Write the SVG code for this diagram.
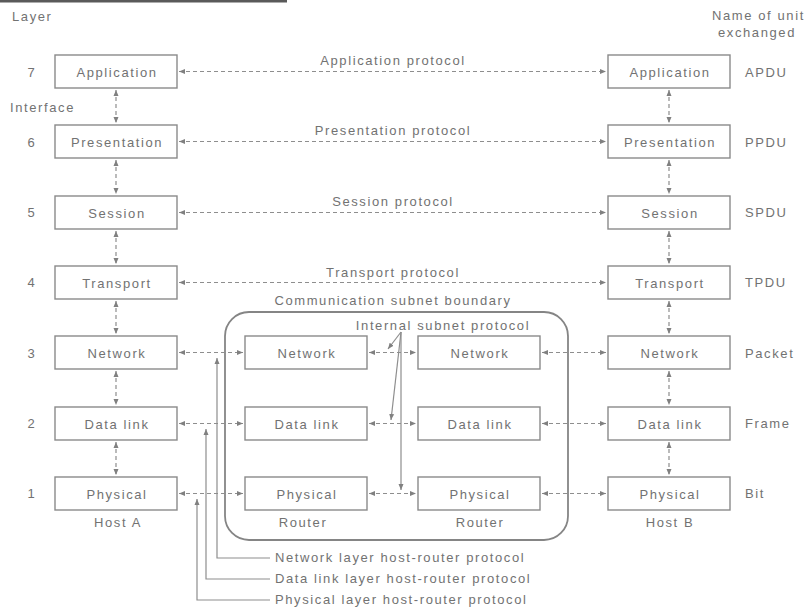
<svg xmlns="http://www.w3.org/2000/svg" width="811" height="608" viewBox="0 0 811 608">
<style>
text{font-family:"Liberation Sans",Arial,sans-serif;font-size:13px;fill:#727272;letter-spacing:1.6px}
.c{text-anchor:middle}
.box{fill:#ffffff;stroke:#8a8a8a;stroke-width:1.4}
.dash{fill:none;stroke:#8e8e8e;stroke-width:1.2;stroke-dasharray:4 3}
.sol{fill:none;stroke:#8e8e8e;stroke-width:1.2}
.bnd{fill:none;stroke:#858585;stroke-width:1.8}
</style>
<defs>
<marker id="ah" markerWidth="6" markerHeight="6" refX="6" refY="3" orient="auto-start-reverse" markerUnits="userSpaceOnUse">
<path d="M0,0.5 L6,3 L0,5.5 z" fill="#808080"/>
</marker>
</defs>
<rect x="0" y="0" width="287" height="2.5" fill="#5a5a5a"/>
<g id="headers">
<text x="12" y="21">Layer</text>
<text x="10" y="112">Interface</text>
<text x="712" y="20">Name of unit</text>
<text x="718" y="37">exchanged</text>
</g>
<g id="layer-numbers" class="c">
<text class="c" x="32" y="77">7</text>
<text class="c" x="32" y="147">6</text>
<text class="c" x="32" y="217">5</text>
<text class="c" x="32" y="287">4</text>
<text class="c" x="32" y="358">3</text>
<text class="c" x="32" y="428">2</text>
<text class="c" x="32" y="498">1</text>
</g>
<g id="units">
<text x="745" y="77">APDU</text>
<text x="745" y="147">PPDU</text>
<text x="745" y="217">SPDU</text>
<text x="745" y="287">TPDU</text>
<text x="745" y="358">Packet</text>
<text x="745" y="428">Frame</text>
<text x="745" y="498">Bit</text>
</g>
<g id="subnet-boundary">
<rect class="bnd" x="225" y="312" width="343" height="228" rx="24"/>
<text class="c" x="393" y="305">Communication subnet boundary</text>
</g>
<g id="connectors">
<line class="dash" x1="179" y1="71.5" x2="606" y2="71.5" marker-start="url(#ah)" marker-end="url(#ah)"/>
<line class="dash" x1="179" y1="141.5" x2="606" y2="141.5" marker-start="url(#ah)" marker-end="url(#ah)"/>
<line class="dash" x1="179" y1="212.5" x2="606" y2="212.5" marker-start="url(#ah)" marker-end="url(#ah)"/>
<line class="dash" x1="179" y1="282.5" x2="606" y2="282.5" marker-start="url(#ah)" marker-end="url(#ah)"/>
<line class="dash" x1="179" y1="352.5" x2="243" y2="352.5" marker-start="url(#ah)" marker-end="url(#ah)"/>
<line class="dash" x1="369" y1="352.5" x2="416" y2="352.5" marker-start="url(#ah)" marker-end="url(#ah)"/>
<line class="dash" x1="542" y1="352.5" x2="606" y2="352.5" marker-start="url(#ah)" marker-end="url(#ah)"/>
<line class="dash" x1="179" y1="423.5" x2="243" y2="423.5" marker-start="url(#ah)" marker-end="url(#ah)"/>
<line class="dash" x1="369" y1="423.5" x2="416" y2="423.5" marker-start="url(#ah)" marker-end="url(#ah)"/>
<line class="dash" x1="542" y1="423.5" x2="606" y2="423.5" marker-start="url(#ah)" marker-end="url(#ah)"/>
<line class="dash" x1="179" y1="493.5" x2="243" y2="493.5" marker-start="url(#ah)" marker-end="url(#ah)"/>
<line class="dash" x1="369" y1="493.5" x2="416" y2="493.5" marker-start="url(#ah)" marker-end="url(#ah)"/>
<line class="dash" x1="542" y1="493.5" x2="606" y2="493.5" marker-start="url(#ah)" marker-end="url(#ah)"/>
<line class="dash" x1="116" y1="90" x2="116" y2="123" marker-start="url(#ah)" marker-end="url(#ah)"/>
<line class="dash" x1="116" y1="160" x2="116" y2="194" marker-start="url(#ah)" marker-end="url(#ah)"/>
<line class="dash" x1="116" y1="231" x2="116" y2="264" marker-start="url(#ah)" marker-end="url(#ah)"/>
<line class="dash" x1="116" y1="301" x2="116" y2="334" marker-start="url(#ah)" marker-end="url(#ah)"/>
<line class="dash" x1="116" y1="371" x2="116" y2="405" marker-start="url(#ah)" marker-end="url(#ah)"/>
<line class="dash" x1="116" y1="442" x2="116" y2="475" marker-start="url(#ah)" marker-end="url(#ah)"/>
<line class="dash" x1="669" y1="90" x2="669" y2="123" marker-start="url(#ah)" marker-end="url(#ah)"/>
<line class="dash" x1="669" y1="160" x2="669" y2="194" marker-start="url(#ah)" marker-end="url(#ah)"/>
<line class="dash" x1="669" y1="231" x2="669" y2="264" marker-start="url(#ah)" marker-end="url(#ah)"/>
<line class="dash" x1="669" y1="301" x2="669" y2="334" marker-start="url(#ah)" marker-end="url(#ah)"/>
<line class="dash" x1="669" y1="371" x2="669" y2="405" marker-start="url(#ah)" marker-end="url(#ah)"/>
<line class="dash" x1="669" y1="442" x2="669" y2="475" marker-start="url(#ah)" marker-end="url(#ah)"/>
<polyline class="sol" points="217,358 217,558 270,558" marker-start="url(#ah)"/>
<polyline class="sol" points="206,429 206,579 270,579" marker-start="url(#ah)"/>
<polyline class="sol" points="197,499 197,600 270,600" marker-start="url(#ah)"/>
<line class="sol" x1="401" y1="332" x2="388" y2="349" marker-end="url(#ah)"/>
<line class="sol" x1="401" y1="332" x2="391" y2="420" marker-end="url(#ah)"/>
<line class="sol" x1="401" y1="332" x2="401" y2="490" marker-end="url(#ah)"/>
</g>
<g id="protocol-labels">
<text class="c" x="393" y="65">Application protocol</text>
<text class="c" x="393" y="135">Presentation protocol</text>
<text class="c" x="393" y="206">Session protocol</text>
<text class="c" x="393" y="277">Transport protocol</text>
<text class="c" x="443" y="330">Internal subnet protocol</text>
<text x="275" y="562">Network layer host-router protocol</text>
<text x="275" y="583">Data link layer host-router protocol</text>
<text x="275" y="604">Physical layer host-router protocol</text>
</g>
<g id="hostA">
<g id="a-app"><rect class="box" x="55" y="55" width="122" height="33"/><text class="c" x="117" y="76.5">Application</text></g>
<g id="a-pres"><rect class="box" x="55" y="125" width="122" height="33"/><text class="c" x="117" y="146.5">Presentation</text></g>
<g id="a-sess"><rect class="box" x="55" y="196" width="122" height="33"/><text class="c" x="117" y="217.5">Session</text></g>
<g id="a-trans"><rect class="box" x="55" y="266" width="122" height="33"/><text class="c" x="117" y="287.5">Transport</text></g>
<g id="a-net"><rect class="box" x="55" y="336" width="122" height="33"/><text class="c" x="117" y="357.5">Network</text></g>
<g id="a-dl"><rect class="box" x="55" y="407" width="122" height="33"/><text class="c" x="117" y="428.5">Data link</text></g>
<g id="a-phy"><rect class="box" x="55" y="477" width="122" height="33"/><text class="c" x="117" y="498.5">Physical</text></g>
<text class="c" x="118" y="527">Host A</text>
</g>
<g id="router1">
<g id="r1-net"><rect class="box" x="245" y="336" width="122" height="33"/><text class="c" x="307" y="357.5">Network</text></g>
<g id="r1-dl"><rect class="box" x="245" y="407" width="122" height="33"/><text class="c" x="307" y="428.5">Data link</text></g>
<g id="r1-phy"><rect class="box" x="245" y="477" width="122" height="33"/><text class="c" x="307" y="498.5">Physical</text></g>
<text class="c" x="303" y="527">Router</text>
</g>
<g id="router2">
<g id="r2-net"><rect class="box" x="418" y="336" width="122" height="33"/><text class="c" x="480" y="357.5">Network</text></g>
<g id="r2-dl"><rect class="box" x="418" y="407" width="122" height="33"/><text class="c" x="480" y="428.5">Data link</text></g>
<g id="r2-phy"><rect class="box" x="418" y="477" width="122" height="33"/><text class="c" x="480" y="498.5">Physical</text></g>
<text class="c" x="480" y="527">Router</text>
</g>
<g id="hostB">
<g id="b-app"><rect class="box" x="608" y="55" width="122" height="33"/><text class="c" x="670" y="76.5">Application</text></g>
<g id="b-pres"><rect class="box" x="608" y="125" width="122" height="33"/><text class="c" x="670" y="146.5">Presentation</text></g>
<g id="b-sess"><rect class="box" x="608" y="196" width="122" height="33"/><text class="c" x="670" y="217.5">Session</text></g>
<g id="b-trans"><rect class="box" x="608" y="266" width="122" height="33"/><text class="c" x="670" y="287.5">Transport</text></g>
<g id="b-net"><rect class="box" x="608" y="336" width="122" height="33"/><text class="c" x="670" y="357.5">Network</text></g>
<g id="b-dl"><rect class="box" x="608" y="407" width="122" height="33"/><text class="c" x="670" y="428.5">Data link</text></g>
<g id="b-phy"><rect class="box" x="608" y="477" width="122" height="33"/><text class="c" x="670" y="498.5">Physical</text></g>
<text class="c" x="670" y="527">Host B</text>
</g>
</svg>
